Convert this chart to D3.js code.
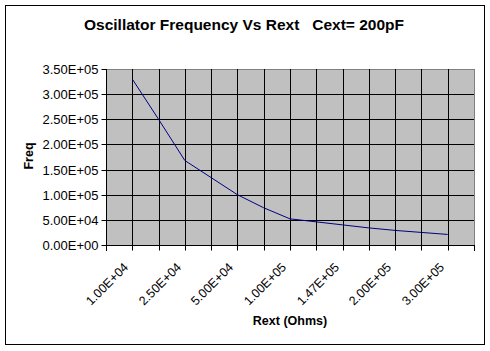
<!DOCTYPE html>
<html>
<head>
<meta charset="utf-8">
<script src="https://cdn.jsdelivr.net/npm/d3@7"></script>
<style>
  body { margin: 0; background: #fff; }
  svg text { font-family: "Liberation Sans", Arial, sans-serif; fill: #000; }
</style>
</head>
<body>
<svg width="490" height="351"></svg>
<script>
// Rext categories (ohms), only every other one is labelled
var rext = [10000, 15000, 25000, 33000, 50000, 75000, 100000, 120000, 147000, 170000, 200000, 250000, 300000];
// oscillator frequency
var freq = [330000, 250000, 168000, 134000, 100000, 74000, 52000, 46000, 40000, 34000, 29000, 25000, 21000];
var yTicks = [0, 50000, 100000, 150000, 200000, 250000, 300000, 350000];

var svg = d3.select('svg');
var plotL = 106, plotR = 474, plotT = 69, plotB = 245;

function expFmt(v) {
  var parts = v.toExponential(2).split('e');
  var e = parts[1];
  return parts[0] + 'E' + e[0] + e.slice(1).padStart(2, '0');
}

var x = d3.scalePoint()
          .domain(rext)
          .range([plotL, plotR])
          .padding(1);

var y = d3.scaleLinear()
          .domain([0, 350000])
          .range([plotB, plotT]);

var crisp = v => Math.round(v) + 0.5;

// chart border
svg.append('rect')
  .attr('x', 5.5).attr('y', 5.5)
  .attr('width', 479).attr('height', 339)
  .style('fill', '#fff')
  .style('stroke', '#000');

// plot area
svg.append('rect')
  .attr('x', crisp(plotL)).attr('y', crisp(plotT))
  .attr('width', plotR - plotL).attr('height', plotB - plotT)
  .style('fill', '#c0c0c0')
  .style('stroke', '#808080');

// grid
svg.append('g')
  .selectAll('line')
  .data(yTicks.slice(1, -1))
  .enter()
  .append('line')
    .attr('x1', plotL).attr('x2', plotR)
    .attr('y1', d => crisp(y(d))).attr('y2', d => crisp(y(d)))
    .style('stroke', '#000');

svg.append('g')
  .selectAll('line')
  .data(rext)
  .enter()
  .append('line')
    .attr('x1', d => crisp(x(d))).attr('x2', d => crisp(x(d)))
    .attr('y1', plotT).attr('y2', plotB)
    .style('stroke', '#000');

// axes
var yAxis = svg.append('g')
  .attr('transform', 'translate(' + crisp(plotL) + ',0)')
  .call(d3.axisLeft(y).tickValues(yTicks).tickSize(5).tickPadding(3).tickFormat(expFmt));
yAxis.select('.domain').remove();
yAxis.selectAll('.tick').attr('transform', d => 'translate(0,' + crisp(y(d)) + ')');
yAxis.selectAll('text').style('font-size', '13px').style('font-family', '"Liberation Sans", Arial, sans-serif');

var xAxis = svg.append('g')
  .attr('transform', 'translate(0,' + crisp(plotB) + ')')
  .call(d3.axisBottom(x).tickSize(5).tickFormat((d, i) => i % 2 === 0 ? expFmt(d) : ''));
xAxis.select('.domain').remove();
xAxis.selectAll('.tick').attr('transform', d => 'translate(' + crisp(x(d)) + ',0)');
xAxis.selectAll('text')
  .attr('y', 0).attr('dy', 0)
  .attr('transform', 'translate(-3.5,22.5) rotate(-45)')
  .style('text-anchor', 'end')
  .style('font-size', '12.5px')
  .style('font-family', '"Liberation Sans", Arial, sans-serif');

// edge ticks on the category axis
svg.append('g')
  .selectAll('line')
  .data(x.range())
  .enter()
  .append('line')
    .attr('x1', d => crisp(d)).attr('x2', d => crisp(d))
    .attr('y1', plotB).attr('y2', plotB + 6)
    .style('stroke', '#000');

svg.append('line')
  .attr('x1', crisp(plotL)).attr('x2', crisp(plotL))
  .attr('y1', plotT).attr('y2', plotB + 1)
  .style('stroke', '#000');
svg.append('line')
  .attr('x1', plotL).attr('x2', plotR + 1)
  .attr('y1', crisp(plotB)).attr('y2', crisp(plotB))
  .style('stroke', '#000');

// curve
svg.append('path')
  .datum(freq)
  .attr('d', d3.line().x((d, i) => x(rext[i])).y(d => y(d)))
  .style('fill', 'none')
  .style('stroke', '#000080')
  .style('stroke-width', 1);

// titles
svg.append('text')
  .attr('x', 244).attr('y', 30)
  .attr('text-anchor', 'middle')
  .attr('xml:space', 'preserve')
  .style('font-size', '15.5px')
  .style('font-weight', 'bold')
  .style('white-space', 'pre')
  .text('Oscillator Frequency Vs Rext   Cext= 200pF');

svg.append('text')
  .attr('x', 290).attr('y', 325)
  .attr('text-anchor', 'middle')
  .style('font-size', '12.5px')
  .style('font-weight', 'bold')
  .text('Rext (Ohms)');

svg.append('text')
  .attr('transform', 'translate(33,156) rotate(-90)')
  .attr('text-anchor', 'middle')
  .style('font-size', '12.5px')
  .style('font-weight', 'bold')
  .text('Freq');
</script>
</body>
</html>
